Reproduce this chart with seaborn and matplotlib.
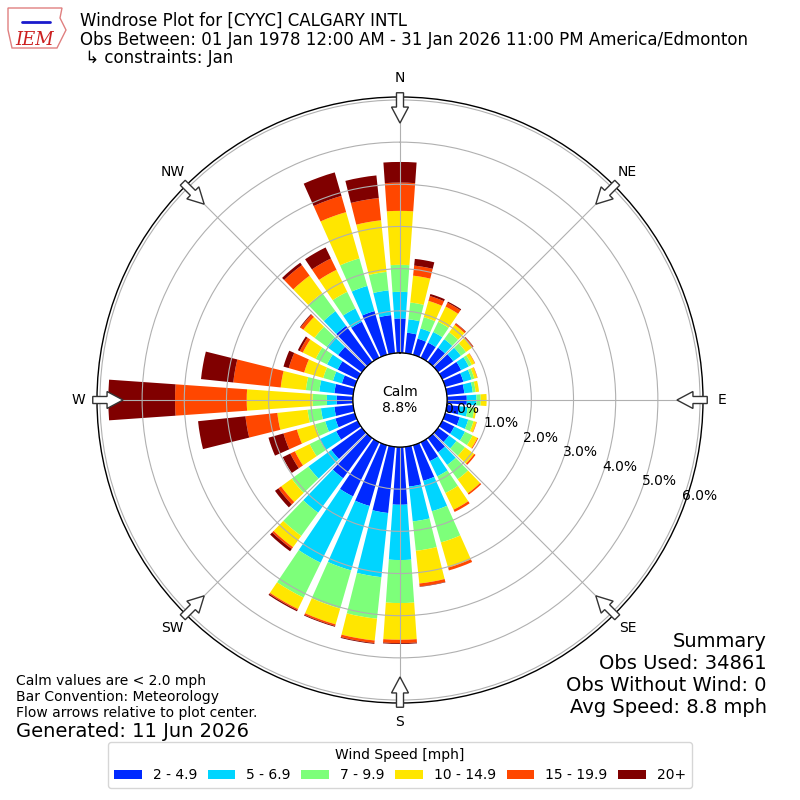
import numpy as np
import matplotlib
matplotlib.use("Agg")
import matplotlib.pyplot as plt
from matplotlib.patches import FancyArrow, Polygon
import seaborn as sns

# wind rose values, percent of all obs, 10 degree bins starting at N
directions = np.arange(0, 360, 10)
spd_2_49 = [0.82, 0.49, 0.40, 0.40, 0.42, 0.45, 0.50, 0.45, 0.42, 0.47, 0.30, 0.36,
            0.32, 0.32, 0.42, 0.50, 0.88, 0.95, 1.37, 1.58, 1.50, 1.43, 1.18, 0.90,
            0.57, 0.48, 0.45, 0.39, 0.45, 0.32, 0.53, 0.70, 1.06, 0.95, 1.08, 0.91]
spd_5_69 = [0.63, 0.32, 0.25, 0.28, 0.25, 0.22, 0.20, 0.20, 0.20, 0.23, 0.20, 0.21,
            0.28, 0.22, 0.37, 0.40, 0.75, 0.83, 1.31, 1.53, 1.59, 1.75, 1.01, 0.67,
            0.44, 0.25, 0.32, 0.23, 0.36, 0.22, 0.28, 0.33, 0.43, 0.35, 0.62, 0.59]
spd_7_99 = [0.64, 0.40, 0.28, 0.27, 0.20, 0.15, 0.08, 0.07, 0.07, 0.10, 0.16, 0.13,
            0.20, 0.25, 0.42, 0.44, 0.77, 0.70, 1.02, 0.99, 0.94, 0.92, 0.68, 0.49,
            0.26, 0.25, 0.32, 0.34, 0.32, 0.24, 0.30, 0.36, 0.53, 0.44, 0.68, 0.44]
spd_10_149 = [1.28, 0.64, 0.40, 0.40, 0.22, 0.18, 0.08, 0.07, 0.08, 0.14, 0.05, 0.07,
              0.13, 0.27, 0.41, 0.44, 0.62, 0.78, 0.87, 0.52, 0.39, 0.30, 0.33, 0.31,
              0.39, 0.45, 0.72, 1.56, 0.60, 0.47, 0.34, 0.33, 0.51, 0.58, 1.14, 1.23]
spd_15_199 = [0.67, 0.24, 0.12, 0.10, 0.04, 0.03, 0.01, 0.01, 0.00, 0.00, 0.00, 0.01,
              0.02, 0.04, 0.04, 0.06, 0.07, 0.07, 0.08, 0.06, 0.04, 0.03, 0.05, 0.08,
              0.12, 0.33, 0.76, 1.70, 1.13, 0.38, 0.08, 0.08, 0.31, 0.30, 0.40, 0.53]
spd_20p = [0.49, 0.16, 0.05, 0.03, 0.01, 0.01, 0.00, 0.00, 0.00, 0.00, 0.00, 0.00,
           0.00, 0.00, 0.00, 0.00, 0.00, 0.01, 0.02, 0.02, 0.02, 0.03, 0.07, 0.10,
           0.20, 0.37, 1.13, 1.58, 0.77, 0.13, 0.05, 0.02, 0.07, 0.29, 0.58, 0.54]
speed_bins = [spd_2_49, spd_5_69, spd_7_99, spd_10_149, spd_15_199, spd_20p]
speed_labels = ["2 - 4.9", "5 - 6.9", "7 - 9.9", "10 - 14.9", "15 - 19.9", "20+"]

calm_pct = 8.8
rticks = [0, 1, 2, 3, 4, 5, 6]
compass = ["N", "NE", "E", "SE", "S", "SW", "W", "NW"]
summary = ["Summary", "Obs Used: 34861", "Obs Without Wind: 0", "Avg Speed: 8.8 mph"]
notes = ["Calm values are < 2.0 mph", "Bar Convention: Meteorology",
         "Flow arrows relative to plot center."]

sns.set_style("white", {"axes.edgecolor": "black", "text.color": "black",
                        "xtick.color": "black", "ytick.color": "black"})
plt.rcParams["font.family"] = ["DejaVu Sans"]

# seaborn won't hand out jet, take it from matplotlib
jet = matplotlib.colormaps["jet"]
colors = sns.color_palette(jet(np.linspace(0, 1, 7))[1:])

fig = plt.figure(figsize=(8, 8), dpi=100)
W = 800.0
ax = fig.add_axes([97 / W, 97 / W, 606 / W, 606 / W], projection="polar")
ax.set_theta_zero_location("N")
ax.set_theta_direction(-1)

theta = np.deg2rad(directions)
bottom = np.zeros(len(directions))
for vals, lab, col in zip(speed_bins, speed_labels, colors):
    vals = np.array(vals)
    ax.bar(theta, vals, width=np.deg2rad(8), bottom=bottom, color=col,
           label=lab, linewidth=0, align="center")
    bottom += vals

ax.set_rorigin(-1.114)
ax.set_rlim(0, 6.07)
ax.set_rticks(rticks)
ax.set_yticklabels([f"{t:.1f}%" for t in rticks], fontsize=10)
ax.set_rlabel_position(110)
ax.set_thetagrids(range(0, 360, 45), compass, fontsize=10)
ax.tick_params(axis="x", pad=3)
ax.grid(True, color="#b0b0b0", lw=0.8)
ax.set_axisbelow("line")  # grid over the bars
ax.spines["polar"].set_color("black")
ax.spines["polar"].set_linewidth(1.0)

# calm circle
circ = np.linspace(0, 2 * np.pi, 361)
ax.plot(circ, np.zeros_like(circ), color="black", lw=1)
ax.text(0.5, 0.5, f"Calm\n{calm_pct:.1f}%", transform=ax.transAxes,
        ha="center", va="center", fontsize=10)

# flow arrows at the edge
for a in np.deg2rad(range(0, 360, 45)):
    ux, uy = np.sin(a), np.cos(a)
    arr = FancyArrow(0.5 + 0.507 * ux, 0.5 + 0.507 * uy, -0.05 * ux, -0.05 * uy,
                     width=0.0116, head_width=0.028, head_length=0.0264,
                     length_includes_head=True, transform=ax.transAxes,
                     clip_on=False, facecolor="white", edgecolor="#333333",
                     lw=1, zorder=5)
    ax.add_artist(arr)

# header
fig.text(80 / W, 1 - 26 / W, "Windrose Plot for [CYYC] CALGARY INTL", fontsize=12,
         va="baseline")
fig.text(80 / W, 1 - 45 / W,
         "Obs Between: 01 Jan 1978 12:00 AM - 31 Jan 2026 11:00 PM America/Edmonton",
         fontsize=12, va="baseline")
fig.text(80 / W, 1 - 63 / W, " \u21b3 constraints: Jan", fontsize=12, va="baseline")

# rough IEM logo
iowa = [(8, 8), (62, 8), (60, 18), (66, 30), (60, 42), (57, 48), (12, 48), (8, 30)]
fig.add_artist(Polygon([(x / W, 1 - y / W) for x, y in iowa], closed=True,
                       fill=False, edgecolor="#e08080", lw=1,
                       transform=fig.transFigure))
fig.add_artist(plt.Line2D([22 / W, 50 / W], [1 - 22 / W, 1 - 22 / W],
                          color="#1a1acc", lw=2, transform=fig.transFigure))
fig.text(15 / W, 1 - 45 / W, "IEM", color="#cc2020", fontsize=13,
         family="serif", style="italic", va="baseline")

# bottom notes
for i, t in enumerate(notes):
    fig.text(16 / W, 1 - (685 + 16 * i) / W, t, fontsize=10, va="baseline")
fig.text(16 / W, 1 - 737 / W, "Generated: 11 Jun 2026", fontsize=14, va="baseline")
for i, t in enumerate(summary):
    fig.text(767 / W, 1 - (647 + 22 * i) / W, t, fontsize=14, ha="right",
             va="baseline")

handles, labels = ax.get_legend_handles_labels()
fig.legend(handles, labels, loc="lower center", bbox_to_anchor=(0.5, 12 / W),
           borderaxespad=0, ncol=6, columnspacing=0.75, title="Wind Speed [mph]",
           fontsize=10, title_fontsize=10, frameon=True)

fig.savefig("out.png", dpi=100)
